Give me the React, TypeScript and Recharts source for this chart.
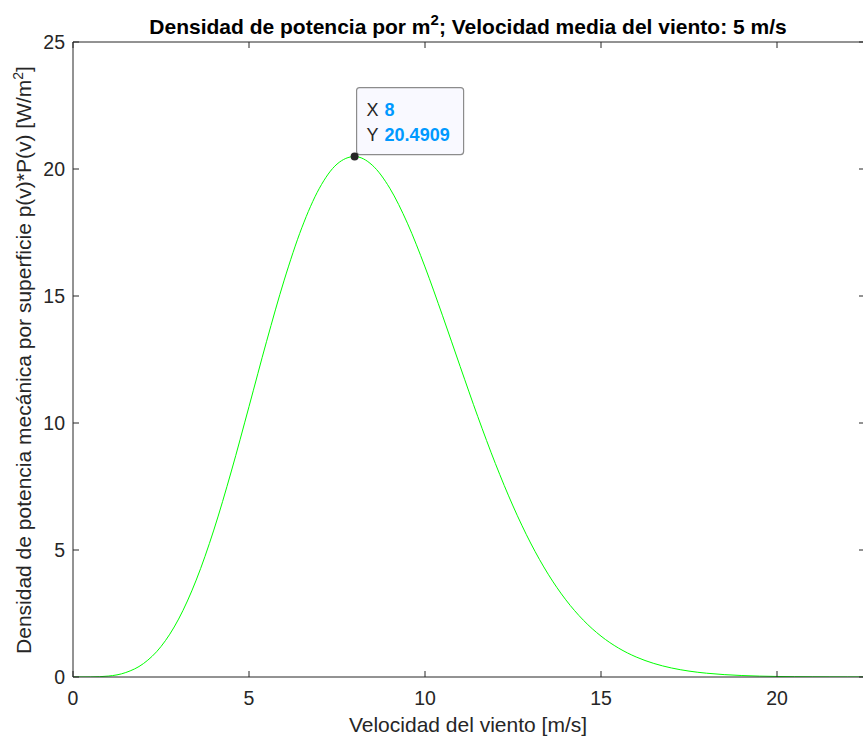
import { LineChart, Line, XAxis, YAxis, ReferenceDot, Label } from "recharts";

// wind speed [m/s] and power density p(v)*P(v) [W/m2]
const speeds = [
  0, 0.5, 1, 1.5, 2, 2.5, 3, 3.5, 4, 4.5, 5, 5.5, 6, 6.5, 7, 7.5, 8, 8.5, 9, 9.5, 10, 10.5, 11, 11.5,
  12, 12.5, 13, 13.5, 14, 14.5, 15, 15.5, 16, 16.5, 17, 17.5, 18, 18.5, 19, 19.5, 20, 20.5, 21, 21.5,
  22, 22.5,
];
const density = [
  0, 0.0023, 0.036, 0.176, 0.527, 1.199, 2.281, 3.815, 5.785, 8.109, 10.646, 13.217, 15.625, 17.685,
  19.242, 20.193, 20.4909, 20.153, 19.243, 17.867, 16.144, 14.22, 12.221, 10.251, 8.402, 6.733, 5.275,
  4.047, 3.039, 2.235, 1.61, 1.137, 0.787, 0.534, 0.356, 0.232, 0.149, 0.094, 0.058, 0.035, 0.021,
  0.012, 0.007, 0.004, 0.002, 0.001,
];
const xTicks = [0, 5, 10, 15, 20];
const yTicks = [0, 5, 10, 15, 20, 25];
const tipX = 8;
const tipY = 20.4909;

const data = speeds.map((v, i) => ({ v, p: density[i] }));

const INK = "#262626";
const FONT = "'Liberation Sans', Arial, Helvetica, sans-serif";

function BottomTick({ x, y, payload }: any) {
  return (
    <g>
      <line x1={x} x2={x} y1={y} y2={y - 6} stroke={INK} />
      <text x={x} y={y + 28} textAnchor="middle" fill={INK} fontSize={19.5} fontFamily={FONT}>
        {payload.value}
      </text>
    </g>
  );
}

function TopTick({ x, y }: any) {
  return <line x1={x} x2={x} y1={y} y2={y + 6} stroke={INK} />;
}

function LeftTick({ x, y, payload }: any) {
  return (
    <g>
      <line x1={x} x2={x + 6} y1={y} y2={y} stroke={INK} />
      <text x={x - 8} y={y + 7} textAnchor="end" fill={INK} fontSize={19.5} fontFamily={FONT}>
        {payload.value}
      </text>
    </g>
  );
}

function RightTick({ x, y }: any) {
  return <line x1={x} x2={x - 6} y1={y} y2={y} stroke={INK} />;
}

function DataTip({ cx, cy }: any) {
  return (
    <g fontFamily={FONT} fontSize={18}>
      <rect x={cx + 2} y={cy - 69} width={107} height={67} rx={3} fill="#f9f9ff" stroke="#8c8c8c" strokeWidth={1.2} />
      <text x={cx + 12} y={cy - 41} fill={INK}>X</text>
      <text x={cx + 30} y={cy - 41} fill="#0099ff" fontWeight="bold">{tipX}</text>
      <text x={cx + 12} y={cy - 16} fill={INK}>Y</text>
      <text x={cx + 30} y={cy - 16} fill="#0099ff" fontWeight="bold">{tipY}</text>
      <circle cx={cx} cy={cy} r={4} fill="#262626" />
    </g>
  );
}

function Title() {
  return (
    <text x={468} y={34} textAnchor="middle" fill="#000" fontSize={21} fontWeight="bold" fontFamily={FONT}>
      Densidad de potencia por m
      <tspan dy={-9} fontSize={15}>2</tspan>
      <tspan dy={9}>; Velocidad media del viento: 5 m/s</tspan>
    </text>
  );
}

function YTitle() {
  return (
    <text
      x={0}
      y={0}
      transform="translate(31,360) rotate(-90)"
      textAnchor="middle"
      fill={INK}
      fontSize={21}
      fontFamily={FONT}
    >
      Densidad de potencia mecánica por superficie p(v)*P(v) [W/m
      <tspan dy={-8} fontSize={14}>2</tspan>
      <tspan dy={8}>]</tspan>
    </text>
  );
}

function XTitle() {
  return (
    <text x={468} y={732} textAnchor="middle" fill={INK} fontSize={21} fontFamily={FONT}>
      Velocidad del viento [m/s]
    </text>
  );
}

export default function App() {
  return (
    <div style={{ position: "absolute", left: 0, top: 0, width: 863, height: 740, overflow: "hidden", background: "#fff" }}>
      <LineChart width={866} height={740} data={data} margin={{ top: 41, right: 0, bottom: 0, left: 0 }}>
        <XAxis
          xAxisId="b"
          dataKey="v"
          type="number"
          domain={[0, 22.5]}
          ticks={xTicks}
          height={63}
          tickSize={0}
          tickMargin={0}
          tickLine={false}
          axisLine={{ stroke: INK }}
          tick={<BottomTick />}
          allowDataOverflow
        >
          <Label content={() => <XTitle />} />
        </XAxis>
        <XAxis
          xAxisId="t"
          orientation="top"
          dataKey="v"
          type="number"
          domain={[0, 22.5]}
          ticks={xTicks}
          height={1}
          tickSize={0}
          tickMargin={0}
          tickLine={false}
          axisLine={{ stroke: INK }}
          tick={<TopTick />}
          allowDataOverflow
        >
          <Label content={() => <Title />} />
        </XAxis>
        <YAxis
          yAxisId="l"
          type="number"
          domain={[0, 25]}
          ticks={yTicks}
          width={73}
          tickSize={0}
          tickMargin={0}
          tickLine={false}
          axisLine={{ stroke: INK }}
          tick={<LeftTick />}
          allowDataOverflow
        >
          <Label content={() => <YTitle />} />
        </YAxis>
        <YAxis
          yAxisId="r"
          orientation="right"
          type="number"
          domain={[0, 25]}
          ticks={yTicks}
          width={1}
          tickSize={0}
          tickMargin={0}
          tickLine={false}
          axisLine={{ stroke: INK }}
          tick={<RightTick />}
          allowDataOverflow
        />
        {/* invisible copy so the top/right frame axes are drawn */}
        <Line
          xAxisId="t"
          yAxisId="r"
          type="monotone"
          dataKey="p"
          stroke="none"
          dot={false}
          activeDot={false}
          isAnimationActive={false}
        />
        <Line
          xAxisId="b"
          yAxisId="l"
          type="monotone"
          dataKey="p"
          stroke="#00ff00"
          strokeWidth={1}
          dot={false}
          isAnimationActive={false}
        />
        <ReferenceDot xAxisId="b" yAxisId="l" x={tipX} y={tipY} r={4} shape={<DataTip />} />
      </LineChart>
    </div>
  );
}
